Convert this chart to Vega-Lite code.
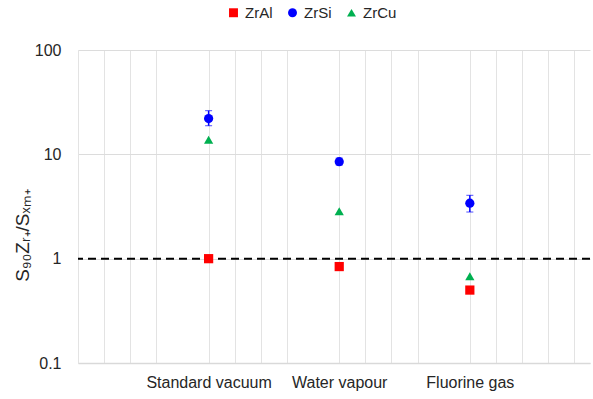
{
  "$schema": "https://vega.github.io/schema/vega-lite/v6.json",
  "width": 512,
  "height": 313,
  "autosize": {"type": "none"},
  "padding": {"left": 78, "top": 50, "right": 3, "bottom": 36},
  "background": "white",
  "config": {
    "font": "Liberation Sans",
    "view": {"stroke": null},
    "axisX": {
      "labelFontSize": 16,
      "labelColor": "#262626",
      "labelPadding": 11,
      "labelOverlap": false,
      "labelFlush": false,
      "ticks": false,
      "grid": true,
      "gridColor": "#e3e3e3",
      "gridWidth": 1,
      "domainColor": "#d9d9d9",
      "domainWidth": 1.5
    },
    "axisY": {
      "titleFontSize": 19,
      "titleFontWeight": "normal",
      "titleColor": "#262626",
      "titleAngle": -90,
      "titleAlign": "center",
      "titleBaseline": "middle",
      "titleX": -56,
      "titleY": 185,
      "labelFontSize": 16,
      "labelColor": "#262626",
      "labelPadding": 17,
      "ticks": false,
      "domain": true,
      "domainColor": "#e3e3e3",
      "grid": true,
      "gridColor": "#dcdcdc",
      "gridWidth": 1
    }
  },
  "datasets": {
    "pts": [
      {"pos": 5, "cond": "Standard vacuum", "series": "ZrAl", "value": 1.0},
      {"pos": 5, "cond": "Standard vacuum", "series": "ZrSi", "value": 22.0},
      {"pos": 5, "cond": "Standard vacuum", "series": "ZrCu", "value": 13.8},
      {"pos": 10, "cond": "Water vapour", "series": "ZrAl", "value": 0.84},
      {"pos": 10, "cond": "Water vapour", "series": "ZrSi", "value": 8.5},
      {"pos": 10, "cond": "Water vapour", "series": "ZrCu", "value": 2.85},
      {"pos": 15, "cond": "Fluorine gas", "series": "ZrAl", "value": 0.50},
      {"pos": 15, "cond": "Fluorine gas", "series": "ZrSi", "value": 3.4},
      {"pos": 15, "cond": "Fluorine gas", "series": "ZrCu", "value": 0.68}
    ],
    "err": [
      {"pos": 5, "lo": 18.8, "hi": 26.2},
      {"pos": 10, "lo": 7.9, "hi": 9.2},
      {"pos": 15, "lo": 2.8, "hi": 4.05}
    ],
    "ref": [{"yv": 1}]
  },
  "layer": [
    {
      "data": {"name": "ref"},
      "mark": {"type": "rule", "color": "black", "strokeWidth": 2, "strokeDash": [8, 5]},
      "encoding": {
        "y": {
          "field": "yv", "type": "quantitative",
          "scale": {"type": "log", "domain": [0.1, 100]},
          "title": "S₉₀Zᵣ₊/Sₓₘ₊",
          "axis": {"values": [0.1, 1, 10, 100], "labelExpr": "datum.value < 0.5 ? '0.1' : format(datum.value, 'd')"}
        }
      }
    },
    {
      "data": {"name": "err"},
      "mark": {"type": "errorbar", "ticks": {"size": 7, "color": "#0000ff", "strokeWidth": 1.5}, "rule": {"color": "#0000ff", "strokeWidth": 1.5}},
      "encoding": {
        "x": {
          "field": "pos", "type": "quantitative",
          "scale": {"domain": [0, 19.6], "nice": false, "zero": false},
          "title": null,
          "axis": {
            "values": [0, 1, 2, 3, 5, 6, 7, 8, 10, 11, 12, 13, 15, 16, 17, 18, 19],
            "labelExpr": "datum.value == 5 ? 'Standard vacuum' : datum.value == 10 ? 'Water vapour' : datum.value == 15 ? 'Fluorine gas' : ''"
          }
        },
        "y": {
          "field": "lo", "type": "quantitative",
          "scale": {"type": "log", "domain": [0.1, 100]},
          "title": "S₉₀Zᵣ₊/Sₓₘ₊",
          "axis": {"values": [0.1, 1, 10, 100], "labelExpr": "datum.value < 0.5 ? '0.1' : format(datum.value, 'd')"}
        },
        "y2": {"field": "hi"}
      }
    },
    {
      "data": {"name": "pts"},
      "mark": {"type": "point", "filled": true, "opacity": 1, "size": 85},
      "encoding": {
        "x": {
          "field": "pos", "type": "quantitative",
          "scale": {"domain": [0, 19.6], "nice": false, "zero": false},
          "title": null,
          "axis": {
            "values": [0, 1, 2, 3, 5, 6, 7, 8, 10, 11, 12, 13, 15, 16, 17, 18, 19],
            "labelExpr": "datum.value == 5 ? 'Standard vacuum' : datum.value == 10 ? 'Water vapour' : datum.value == 15 ? 'Fluorine gas' : ''"
          }
        },
        "y": {
          "field": "value", "type": "quantitative",
          "scale": {"type": "log", "domain": [0.1, 100]},
          "title": "S₉₀Zᵣ₊/Sₓₘ₊",
          "axis": {"values": [0.1, 1, 10, 100], "labelExpr": "datum.value < 0.5 ? '0.1' : format(datum.value, 'd')"}
        },
        "color": {
          "field": "series",
          "type": "nominal",
          "scale": {"domain": ["ZrAl", "ZrSi", "ZrCu"], "range": ["#ff0000", "#0000ff", "#00b050"]},
          "legend": {
            "title": null,
            "orient": "none",
            "direction": "horizontal",
            "legendX": 148,
            "legendY": -45,
            "labelFontSize": 15,
            "labelColor": "#262626",
            "symbolSize": 80,
            "columnPadding": 12,
            "labelOffset": 4
          }
        },
        "shape": {
          "field": "series",
          "type": "nominal",
          "scale": {"domain": ["ZrAl", "ZrSi", "ZrCu"], "range": ["square", "circle", "triangle-up"]},
          "legend": null
        }
      }
    }
  ]
}
